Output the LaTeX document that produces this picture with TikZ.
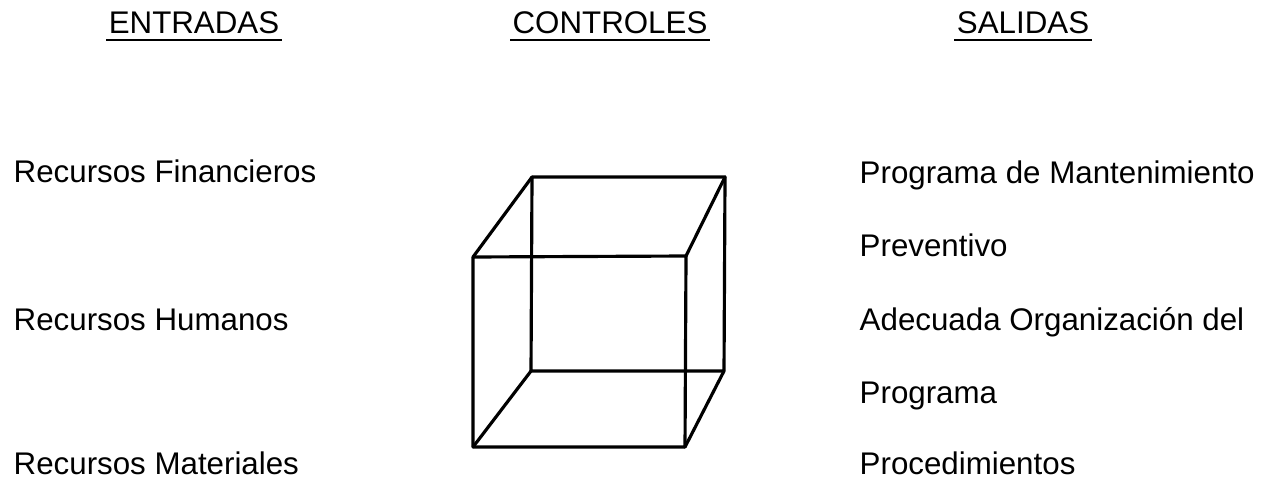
\documentclass[tikz,border=0pt]{standalone}
\usepackage{fontspec}
\setmainfont{Liberation Sans}
\usepackage{tikz}
\usetikzlibrary{positioning}

\begin{document}
\begin{tikzpicture}[x=0.01cm, y=-0.01cm]
    \tikzset{H/.style={anchor=base, inner sep=0pt, font=\fontsize{8.9}{11}\selectfont},
             T/.style={anchor=base west, inner sep=0pt, font=\fontsize{8.9}{11}\selectfont},
             uline/.style={line width=0.6pt},
             edge/.style={line width=0.9pt, line join=round, line cap=round}}
    \useasboundingbox (0,0) rectangle (1274,482);
    % headings
    \node[H] (entradas) at (194,34) {ENTRADAS};
    \node[H] (controles) at (610,34) {CONTROLES};
    \node[H] (salidas) at (1023,34) {SALIDAS};
    \foreach \h in {entradas,controles,salidas}
      \draw[uline] ([xshift=-0.5pt,yshift=-1.6pt]\h.base west) -- ([xshift=0.5pt,yshift=-1.6pt]\h.base east);
    % inputs
    \node[T] (fin) at (13,182) {Recursos Financieros};
    \node[T] (hum) at (13,330) {Recursos Humanos};
    \node[T] (mat) at (13,474) {Recursos Materiales};
    % outputs
    \node[T] (prog) at (859,183) {Programa de Mantenimiento};
    \node[T] (prev) at (859,256) {Preventivo};
    \node[T] (adec) at (859,330) {Adecuada Organización del};
    \node[T] (prog2) at (859,403) {Programa};
    \node[T] (proc) at (859,474) {Procedimientos};
    % cube
    \coordinate (f1) at (473,257); \coordinate (f2) at (686,256);
    \coordinate (f3) at (685,447); \coordinate (f4) at (473,447);
    \coordinate (b1) at (532,177); \coordinate (b2) at (725,177);
    \coordinate (b3) at (724,371); \coordinate (b4) at (531,371);
    \draw[edge] (f1) -- (f2) -- (f3) -- (f4) -- cycle;
    \draw[edge] (b1) -- (b2) -- (b3) -- (b4) -- cycle;
    \draw[edge] (f1) -- (b1);
    \draw[edge] (f2) -- (b2);
    \draw[edge] (f3) -- (b3);
    \draw[edge] (f4) -- (b4);
\end{tikzpicture}
\end{document}
